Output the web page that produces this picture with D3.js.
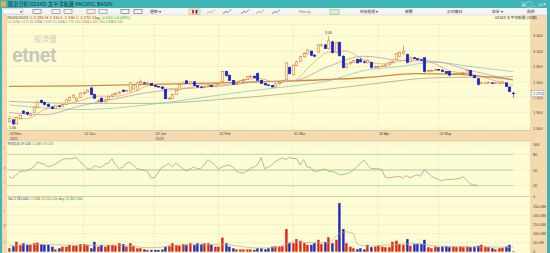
<!doctype html>
<html lang="zh-Hant">
<head>
  <meta charset="utf-8">
  <title>02343 chart</title>
  <script src="https://cdn.jsdelivr.net/npm/d3@7"></script>
  <style>
    * { margin: 0; padding: 0; box-sizing: border-box; }
    body { width: 550px; height: 253px; overflow: hidden; background: #fff; }
    svg { display: block; }
    text { font-family: "Liberation Sans", Arial, "Noto Sans CJK TC", sans-serif; }
  </style>
</head>
<body>
  <div id="container"></div>
  <script>
    // daily candles, [open, high, low, close], 02/Nov/2022 .. 25/05/2023
    const ohlc = [
      [1.72,1.80,1.70,1.78],[1.76,1.77,1.66,1.68],[1.68,1.82,1.67,1.80],[1.78,1.86,1.76,1.84],[1.93,1.95,1.87,1.89],
      [1.90,1.92,1.85,1.87],[1.84,1.90,1.82,1.88],[1.90,2.03,1.89,2.01],[2.00,2.13,1.98,2.11],[2.14,2.16,2.08,2.10],
      [2.10,2.12,2.04,2.06],[2.06,2.08,2.01,2.02],[2.01,2.03,1.96,1.98],[1.98,2.05,1.97,2.03],[2.03,2.05,2.00,2.02],
      [2.02,2.08,2.01,2.06],[2.06,2.16,2.05,2.15],[2.14,2.22,2.12,2.20],[2.20,2.26,2.18,2.24],[2.14,2.19,2.12,2.18],
      [2.20,2.30,2.19,2.28],[2.27,2.32,2.25,2.30],[2.30,2.36,2.29,2.34],[2.38,2.40,2.24,2.25],[2.25,2.27,2.17,2.18],
      [2.12,2.16,2.10,2.14],[2.18,2.20,2.10,2.11],[2.12,2.17,2.10,2.15],[2.16,2.23,2.15,2.22],[2.22,2.27,2.20,2.25],
      [2.25,2.30,2.24,2.28],[2.28,2.32,2.26,2.30],[2.34,2.35,2.30,2.31],[2.31,2.35,2.30,2.33],[2.32,2.50,2.30,2.48],
      [2.36,2.46,2.34,2.44],[2.33,2.50,2.32,2.48],[2.48,2.55,2.47,2.51],[2.48,2.50,2.46,2.47],[2.47,2.50,2.46,2.48],
      [2.47,2.48,2.42,2.43],[2.43,2.44,2.40,2.41],[2.41,2.42,2.39,2.40],[2.40,2.41,2.35,2.37],[2.35,2.36,2.16,2.17],
      [2.18,2.21,2.15,2.18],[2.18,2.27,2.17,2.25],[2.25,2.34,2.24,2.33],[2.35,2.46,2.34,2.45],[2.45,2.50,2.44,2.48],
      [2.52,2.53,2.46,2.47],[2.46,2.52,2.45,2.50],[2.50,2.51,2.42,2.43],[2.43,2.44,2.38,2.40],[2.40,2.42,2.37,2.39],
      [2.39,2.42,2.38,2.41],[2.41,2.45,2.40,2.43],[2.43,2.44,2.40,2.41],[2.41,2.48,2.40,2.46],[2.46,2.48,2.44,2.46],
      [2.50,2.72,2.49,2.70],[2.70,2.72,2.60,2.62],[2.63,2.64,2.52,2.53],[2.53,2.54,2.44,2.45],[2.45,2.49,2.44,2.47],
      [2.47,2.53,2.46,2.52],[2.52,2.56,2.50,2.55],[2.55,2.61,2.54,2.60],[2.60,2.63,2.58,2.61],[2.61,2.62,2.57,2.58],
      [2.66,2.68,2.52,2.53],[2.53,2.54,2.46,2.47],[2.47,2.48,2.43,2.44],[2.44,2.45,2.41,2.43],[2.43,2.44,2.39,2.40],
      [2.40,2.47,2.39,2.46],[2.46,2.50,2.45,2.49],[2.49,2.54,2.48,2.52],[2.55,2.89,2.54,2.87],[2.78,2.80,2.64,2.66],
      [2.64,2.84,2.62,2.82],[2.82,2.91,2.80,2.89],[2.90,3.01,2.88,2.99],[2.99,3.08,2.97,3.05],[3.05,3.14,3.03,3.12],
      [3.10,3.11,3.00,3.02],[3.02,3.04,2.98,3.00],[3.08,3.24,3.07,3.22],[3.21,3.25,3.18,3.22],[3.22,3.24,3.14,3.15],
      [3.15,3.40,3.13,3.30],[3.28,3.30,3.05,3.07],[3.08,3.28,3.06,3.26],[3.27,3.29,2.99,3.01],[3.00,3.02,2.76,2.78],
      [2.78,2.87,2.76,2.85],[2.85,2.90,2.84,2.88],[2.88,2.93,2.87,2.91],[2.94,2.95,2.86,2.87],[2.93,2.97,2.88,2.89],
      [2.89,2.92,2.86,2.88],[2.87,2.94,2.86,2.92],[2.88,2.89,2.76,2.78],[2.78,2.82,2.76,2.80],[2.80,2.82,2.78,2.80],
      [2.80,2.83,2.79,2.81],[2.81,2.85,2.80,2.83],[2.83,2.89,2.82,2.87],[2.87,2.92,2.86,2.90],[2.94,3.07,2.93,3.05],
      [3.00,3.09,2.99,3.07],[3.05,3.22,3.03,3.10],[3.03,3.05,2.86,2.88],[2.90,2.99,2.88,2.97],[2.97,2.98,2.94,2.95],
      [2.95,2.96,2.92,2.93],[2.93,2.94,2.91,2.92],[2.97,2.98,2.68,2.70],[2.70,2.74,2.69,2.72],[2.72,2.74,2.70,2.72],
      [2.72,2.76,2.71,2.74],[2.74,2.75,2.72,2.73],[2.73,2.74,2.69,2.70],[2.70,2.71,2.66,2.67],[2.70,2.71,2.62,2.63],
      [2.64,2.67,2.63,2.65],[2.65,2.67,2.64,2.66],[2.66,2.68,2.65,2.66],[2.66,2.69,2.65,2.67],[2.66,2.74,2.65,2.72],
      [2.72,2.73,2.61,2.62],[2.62,2.63,2.57,2.58],[2.56,2.57,2.43,2.45],[2.47,2.50,2.46,2.48],[2.48,2.49,2.46,2.48],
      [2.48,2.50,2.47,2.49],[2.48,2.49,2.46,2.47],[2.47,2.50,2.46,2.49],[2.48,2.50,2.47,2.48],[2.47,2.52,2.46,2.50],
      [2.48,2.49,2.40,2.41],[2.40,2.41,2.30,2.31],[2.28,2.31,2.19,2.27]
    ];

    // daily volume, millions of shares
    const volume = [
      19,30,55,38,47,38,38,47,50,42, 38,38,28,13,19,28,28,38,33,33,
      42,42,38,19,55,28,38,28,38,38, 33,47,42,28,47,33,19,19,13,10,
      10,10,10,12,28,33,47,38,33,42, 38,47,38,47,42,47,47,38,28,28,
      78,47,28,19,13,13,13,13,13,10, 19,19,13,19,28,30,30,30,126,47,
      47,70,61,47,38,38,47,66,42,55, 80,47,66,270,126,47,28,19,14,19,
      13,38,25,28,33,28,25,25,55,61, 42,38,70,33,42,42,42,66,25,19,
      28,25,28,30,25,28,25,28,25,28, 25,28,33,38,28,25,19,13,19,22,
      28,38,3
    ];

    // 14-day RSI
    const rsi = [
      37,34,40,47,48,48,52,56,65,63, 61,56,58,61,66,70,72,71,72,74,
      66,60,53,51,58,56,55,61,63,72, 60,53,55,63,65,60,53,51,50,48,
      35,35,45,55,58,63,56,63,58,53, 48,52,56,52,53,60,70,65,60,52,
      56,58,60,56,48,45,44,48,53,56, 60,74,53,55,60,66,70,73,70,74,
      72,72,60,70,56,55,47,48,50,52, 48,47,45,41,41,43,45,50,56,63,
      69,60,53,53,52,51,36,35,36,37, 38,34,39,35,38,41,38,51,45,38,
      35,32,29,32,32,32,33,34,37,30, 23,21,21
    ];

    // moving averages, [day index, value]
    const ma10 = [[0,1.82],[5,1.78],[10,1.96],[15,2.05],[20,2.13],[25,2.22],[30,2.22],[35,2.30],[40,2.43],[45,2.37],
      [50,2.38],[55,2.45],[60,2.44],[65,2.52],[70,2.57],[75,2.50],[80,2.52],[85,2.82],[90,3.08],[95,3.10],
      [100,2.93],[105,2.85],[110,2.90],[115,2.96],[120,2.85],[125,2.70],[130,2.66],[135,2.56],[142,2.43]];
    const ma20 = [[0,1.90],[10,1.86],[20,2.03],[30,2.17],[40,2.30],[50,2.37],[60,2.42],[70,2.50],[80,2.52],
      [90,2.80],[100,3.00],[110,2.92],[120,2.90],[130,2.72],[142,2.54]];
    const ma50 = [[0,2.05],[10,1.99],[20,1.96],[30,1.99],[40,2.06],[50,2.15],[60,2.25],[70,2.34],[80,2.42],
      [90,2.52],[100,2.72],[110,2.80],[120,2.88],[130,2.80],[142,2.70]];
    const ma100 = [[0,2.41],[20,2.42],[40,2.45],[60,2.48],[80,2.52],[100,2.58],[115,2.66],[125,2.65],[142,2.54]];
    const ma250 = [[0,2.12],[20,2.08],[40,2.08],[60,2.16],[80,2.28],[100,2.44],[120,2.58],[142,2.60]];
    const volMa = [[0,35],[10,40],[20,35],[30,36],[40,22],[50,38],[60,40],[70,20],[75,22],[80,55],[85,50],
      [90,50],[93,100],[95,110],[97,100],[98,45],[101,30],[105,35],[110,42],[115,45],[120,32],[130,27],[142,25]];

    const priceTicks = [1.6, 1.9, 2.2, 2.5, 2.8, 3.1, 3.4];
    const rsiTicks = [0, 20, 50, 80, 100];
    const rsiLevels = [20, 50, 80];
    const volTicks = [0, 50, 100, 150, 200, 250];
    const dateTicks = [
      { i: 0, label: '02/Nov', year: '2022' },
      { i: 21, label: '01 Dec' },
      { i: 41, label: '03 Jan', year: '2023' },
      { i: 59, label: '01 Feb' },
      { i: 80, label: '01 Mar' },
      { i: 104, label: '03 Apr' },
      { i: 121, label: '02 May' }
    ];
    const maLegend = [
      ['10-DMA 2.413', '#d8905a'], ['20-DMA 2.539', '#a874b0'], ['50-DMA 2.736', '#58b0b0'],
      ['100-DMA 2.661', '#d08a30'], ['250-DMA 2.528', '#8c9a70']
    ];
    const menuItems = ['技術指標 ▾', '新聞', '公司資料', '設定 ▾', '說明'];

    const W = 550, H = 253;
    const L = 7, R = 530;
    const teal = '#3fb5b8', tan = '#f5dab0', paper = '#fefcd3';
    const upCol = '#d77a3c', dnCol = '#1c22c8';

    const svg = d3.select('#container').append('svg').attr('width', W).attr('height', H);

    // frame
    svg.append('rect').attr('width', W).attr('height', H).attr('fill', tan);
    svg.append('rect').attr('x', L).attr('y', 15).attr('width', R - L).attr('height', 115).attr('fill', paper);
    svg.append('rect').attr('x', L).attr('y', 141).attr('width', R - L).attr('height', 112).attr('fill', paper);
    svg.append('rect').attr('width', W).attr('height', 8).attr('fill', teal);
    svg.append('rect').attr('width', 2).attr('height', H).attr('fill', teal);
    svg.append('rect').attr('x', 547).attr('width', 3).attr('height', H).attr('fill', teal);
    svg.append('rect').attr('x', 2).attr('y', 8).attr('width', 545).attr('height', 7).attr('fill', '#f4f4f2');
    svg.append('line').attr('x1', 2).attr('x2', 547).attr('y1', 15).attr('y2', 15).attr('stroke', '#cfcfcf').attr('stroke-width', 0.5);

    // title bar
    svg.append('rect').attr('x', 1).attr('y', 1.5).attr('width', 5).attr('height', 5).attr('fill', '#f0b040');
    svg.append('text').attr('x', 8).attr('y', 6).attr('font-size', 5.2).attr('fill', '#1a2a40')
      .text('圖表分析(02343) 太平洋航運 PACIFIC BASIN');
    ['▣', '▢', '_', '▭', '×'].forEach((s, k) => {
      svg.append('text').attr('x', 521 + k * 5.5).attr('y', 6).attr('font-size', 5).attr('fill', '#e8f8f8').text(s);
    });

    // toolbar
    svg.append('rect').attr('x', 3).attr('y', 9).attr('width', 20).attr('height', 5).attr('fill', '#fff').attr('stroke', '#999').attr('stroke-width', 0.4);
    svg.append('text').attr('x', 20).attr('y', 13.2).attr('font-size', 3.5).attr('fill', '#333').text('▾');
    const icons = [[33, '#555'], [52, '#666'], [64, '#666'], [87, '#c05030'], [99, '#666'], [121, '#445'], [134, '#445']];
    icons.forEach(([x, c]) => {
      svg.append('rect').attr('x', x).attr('y', 9.5).attr('width', 8).attr('height', 4).attr('fill', 'none')
        .attr('stroke', c).attr('stroke-width', 0.5);
    });
    svg.append('text').attr('x', 150).attr('y', 13.3).attr('font-size', 3.8).attr('fill', '#333').text('週期 ▾');
    svg.append('rect').attr('x', 189).attr('y', 9).attr('width', 11).attr('height', 5.5).attr('fill', '#fde8c8').attr('stroke', '#d08040').attr('stroke-width', 0.4);
    svg.append('rect').attr('x', 192).attr('y', 10).attr('width', 2).attr('height', 3.5).attr('fill', '#e03020');
    svg.append('rect').attr('x', 195.5).attr('y', 10).attr('width', 2).attr('height', 3.5).attr('fill', '#2030d0');
    [[207, '#c0a020'], [223, '#556'], [241, '#556'], [256, '#d08020'], [272, '#556']].forEach(([x, c]) => {
      svg.append('path').attr('d', `M${x},13.5 l3,-2 l2,1 l3,-3`).attr('fill', 'none').attr('stroke', c).attr('stroke-width', 0.7);
    });
    svg.append('text').attr('x', 299).attr('y', 13.3).attr('font-size', 3.8).attr('fill', '#e07010').text('Fibnag');
    svg.append('rect').attr('x', 330).attr('y', 9.2).attr('width', 9).attr('height', 5).attr('fill', '#d8f0d0').attr('stroke', '#6a6').attr('stroke-width', 0.4);
    [360, 405, 447, 492, 527].forEach((x, k) => {
      svg.append('text').attr('x', x).attr('y', 13.3).attr('font-size', 3.8).attr('fill', '#333').text(menuItems[k]);
    });

    // info lines
    const info = svg.append('text').attr('x', 7).attr('y', 18.6).attr('font-size', 4.2);
    [['25/05/2023 ', '#333'], ['O 2.280 ', '#b03010'], ['H 2.310 ', '#b03010'], ['L 2.190 ', '#b03010'],
      ['C 2.270 ', '#b03010'], ['Chg ', '#333'], ['-0.010 (-0.43%)', '#20a040']].forEach(([t, c]) => {
      info.append('tspan').attr('fill', c).text(t);
    });
    const leg = svg.append('text').attr('x', 7).attr('y', 22.8).attr('font-size', 3.4);
    maLegend.forEach(([t, c]) => leg.append('tspan').attr('fill', c).text(t + '  '));
    svg.append('text').attr('x', 495).attr('y', 18.6).attr('font-size', 3.8).attr('fill', '#333')
      .text('02343 太平洋航運 (日線)');

    // scales
    const x = d3.scaleLinear().domain([0, ohlc.length - 1]).range([9, 513]);
    const yP = d3.scaleLinear().domain([1.6, 3.4]).range([128, 35.7]);
    const yR = d3.scaleLinear().domain([0, 100]).range([196, 144]);
    const yV = d3.scaleLinear().domain([0, 250]).range([251.7, 206.7]);
    const cw = 2.5;

    // grids
    const grid = svg.append('g').attr('stroke', '#c9c7a8').attr('stroke-width', 0.5).attr('stroke-dasharray', '1,1.5');
    grid.append('line').attr('x1', L).attr('x2', R).attr('y1', 24.5).attr('y2', 24.5);
    priceTicks.forEach(v => grid.append('line').attr('x1', L).attr('x2', R).attr('y1', yP(v)).attr('y2', yP(v)));
    [100].forEach(v => grid.append('line').attr('x1', L).attr('x2', R).attr('y1', yR(v)).attr('y2', yR(v)));
    volTicks.slice(1).forEach(v => grid.append('line').attr('x1', L).attr('x2', R).attr('y1', yV(v)).attr('y2', yV(v)));
    dateTicks.slice(1).forEach(d => {
      grid.append('line').attr('x1', x(d.i)).attr('x2', x(d.i)).attr('y1', 24).attr('y2', 130);
      grid.append('line').attr('x1', x(d.i)).attr('x2', x(d.i)).attr('y1', 146).attr('y2', 251);
    });

    // watermark
    svg.append('text').attr('x', 34).attr('y', 42).attr('font-size', 7.5).attr('fill', '#cfcfc4')
      .attr('font-family', '"Noto Sans CJK TC", sans-serif').text('經濟通');
    svg.append('text').attr('x', 12).attr('y', 62).attr('font-size', 19.5).attr('fill', '#c6c6bc')
      .attr('font-family', '"Open Sans", "DejaVu Sans", sans-serif').attr('font-weight', 600)
      .attr('letter-spacing', -0.5).text('etnet');

    // moving averages
    const maLine = d3.line().x(d => x(d[0])).y(d => yP(d[1])).curve(d3.curveMonotoneX);
    [[ma250, '#9aa07a', 0.7], [ma100, '#d28a38', 1.3], [ma50, '#7cc4c4', 0.7], [ma20, '#b48cc0', 0.7], [ma10, '#dba070', 0.7]]
      .forEach(([data, c, w]) => {
        svg.append('path').datum(data).attr('d', maLine).attr('fill', 'none').attr('stroke', c).attr('stroke-width', w);
      });

    // candles
    const cg = svg.append('g');
    ohlc.forEach((d, i) => {
      const [o, h, l, c] = d;
      const up = c >= o;
      const col = up ? upCol : dnCol;
      const cx = Math.round(x(i)) + 0.5;
      cg.append('line').attr('x1', cx).attr('x2', cx).attr('y1', yP(h)).attr('y2', yP(l))
        .attr('stroke', col).attr('stroke-width', 0.6);
      const top = yP(Math.max(o, c)), bot = yP(Math.min(o, c));
      cg.append('rect').attr('x', cx - cw / 2).attr('y', top).attr('width', cw).attr('height', Math.max(0.6, bot - top))
        .attr('fill', up ? paper : col).attr('stroke', col).attr('stroke-width', 0.6);
    });
    const hiIdx = d3.maxIndex(ohlc, d => d[1]);
    const loIdx = d3.minIndex(ohlc, d => d[2]);
    svg.append('text').attr('x', x(hiIdx)).attr('y', yP(ohlc[hiIdx][1]) - 1.5).attr('text-anchor', 'middle')
      .attr('font-size', 3.6).attr('fill', '#333').text(ohlc[hiIdx][1].toFixed(2));
    svg.append('text').attr('x', x(loIdx)).attr('y', yP(ohlc[loIdx][2]) + 4).attr('text-anchor', 'middle')
      .attr('font-size', 3.6).attr('fill', '#333').text(ohlc[loIdx][2].toFixed(2));

    // price axis
    const axP = svg.append('g').attr('transform', `translate(${R + 2},0)`)
      .call(d3.axisRight(yP).tickValues(priceTicks).tickSize(0).tickFormat(d3.format('.3f')));
    axP.select('.domain').remove();
    axP.selectAll('text').attr('font-size', 3.8).attr('fill', '#444').attr('x', 1);
    const last = ohlc[ohlc.length - 1][3];
    svg.append('rect').attr('x', R + 1.5).attr('y', yP(last) - 3).attr('width', 12).attr('height', 6)
      .attr('fill', '#fff').attr('stroke', '#888').attr('stroke-width', 0.4);
    svg.append('text').attr('x', R + 3).attr('y', yP(last) + 1.4).attr('font-size', 3.8).attr('fill', '#333').text(last.toFixed(3));

    // date band
    svg.append('line').attr('x1', L).attr('x2', R).attr('y1', 130.5).attr('y2', 130.5).attr('stroke', '#c8b890').attr('stroke-width', 0.5);
    dateTicks.forEach(d => {
      svg.append('text').attr('x', x(d.i) + 1).attr('y', 135).attr('font-size', 3.6).attr('fill', '#444').text(d.label);
      if (d.year) svg.append('text').attr('x', x(d.i) + 1).attr('y', 139.5).attr('font-size', 3.6).attr('fill', '#444').text(d.year);
    });

    // RSI panel
    svg.append('line').attr('x1', L).attr('x2', R).attr('y1', 141).attr('y2', 141).attr('stroke', '#bbb').attr('stroke-width', 0.5);
    rsiLevels.forEach(v => {
      svg.append('line').attr('x1', L).attr('x2', x(ohlc.length - 1)).attr('y1', yR(v)).attr('y2', yR(v))
        .attr('stroke', '#b7dccb').attr('stroke-width', 1.3);
      grid.append('line').attr('x1', x(ohlc.length - 1)).attr('x2', R).attr('y1', yR(v)).attr('y2', yR(v));
    });
    svg.append('path').datum(rsi)
      .attr('d', d3.line().x((d, i) => x(i)).y(d => yR(d)))
      .attr('fill', 'none').attr('stroke', '#a49a6c').attr('stroke-width', 0.7);
    const rl = svg.append('text').attr('x', 8).attr('y', 145).attr('font-size', 3.4);
    rl.append('tspan').attr('fill', '#2a3aa0').text('RSI(14) 19.133 ');
    rl.append('tspan').attr('fill', '#8a8a50').text('1-DAY 19.133');
    const axR = svg.append('g').attr('transform', `translate(${R + 2},0)`)
      .call(d3.axisRight(yR).tickValues(rsiTicks).tickSize(0));
    axR.select('.domain').remove();
    axR.selectAll('text').attr('font-size', 3.8).attr('fill', '#444').attr('x', 1);

    // volume panel
    svg.append('line').attr('x1', L).attr('x2', R).attr('y1', 196.5).attr('y2', 196.5).attr('stroke', '#aaa').attr('stroke-width', 0.6);
    const vg = svg.append('g');
    volume.forEach((v, i) => {
      const up = ohlc[i][3] >= ohlc[i][0];
      vg.append('rect').attr('x', Math.round(x(i)) - 0.8).attr('y', yV(v)).attr('width', 2.4)
        .attr('height', yV(0) - yV(v)).attr('fill', up ? '#e02418' : '#2228c0');
    });
    svg.append('path').datum(volMa).attr('d', d3.line().x(d => x(d[0])).y(d => yV(d[1])).curve(d3.curveMonotoneX))
      .attr('fill', 'none').attr('stroke', '#a9b58e').attr('stroke-width', 0.7);
    const vl = svg.append('text').attr('x', 8).attr('y', 200).attr('font-size', 3.4);
    vl.append('tspan').attr('fill', '#2a3aa0').text('Vol 2,745,000 ');
    vl.append('tspan').attr('fill', '#8a8a50').text('1-DMA 18,530,000 ');
    vl.append('tspan').attr('fill', '#30a040').text('Avg 15,861,300');
    const axV = svg.append('g').attr('transform', `translate(${R + 2},0)`)
      .call(d3.axisRight(yV).tickValues(volTicks).tickSize(0).tickFormat(d => d === 0 ? '0' : d.toFixed(1) + 'M'));
    axV.select('.domain').remove();
    axV.selectAll('text').attr('font-size', 3.8).attr('fill', '#444').attr('x', 1);

    // small panel markers on the left edge
    [[149, '×'], [170, '⇕'], [183, '⤢'], [212, '×'], [227, '⇕'], [243, '⤢']].forEach(([y, s]) => {
      svg.append('text').attr('x', 3).attr('y', y).attr('font-size', 3.5).attr('fill', '#888').text(s);
    });
  </script>
</body>
</html>
